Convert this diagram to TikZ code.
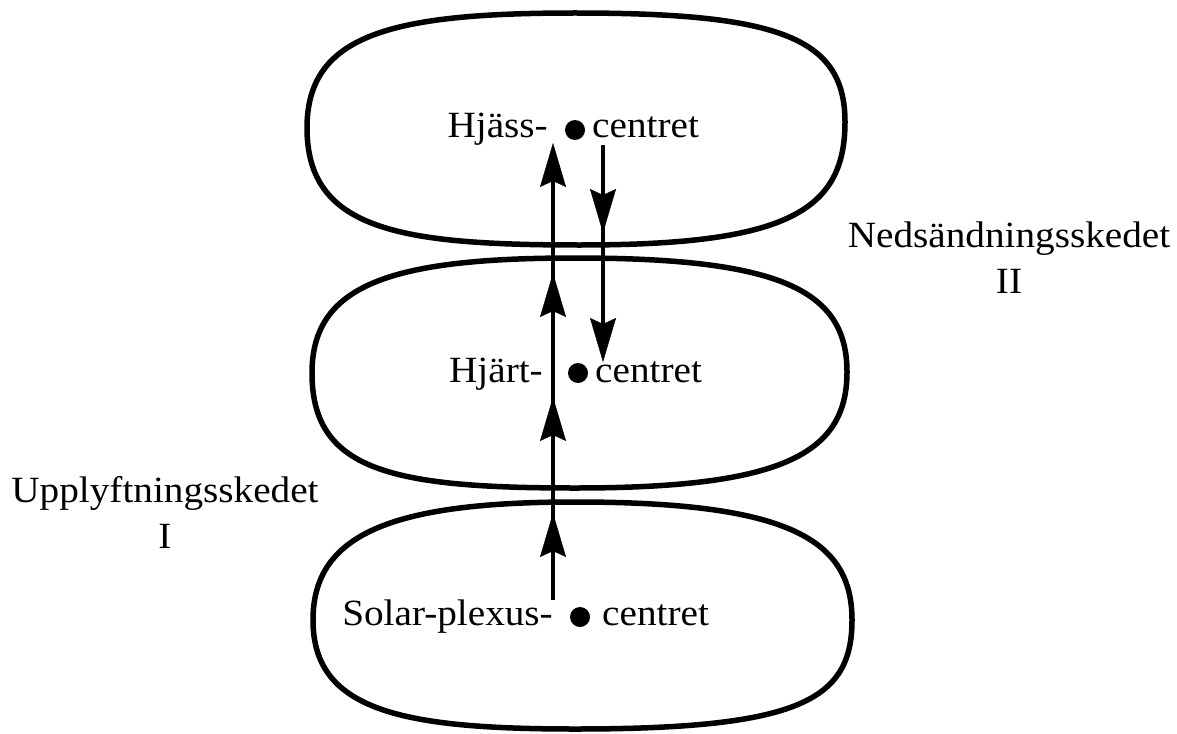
\documentclass[tikz,border=0pt]{standalone}
\usepackage{fontspec}
\setmainfont{Liberation Serif}
\usetikzlibrary{arrows.meta,decorations.markings}
\begin{document}
\begin{tikzpicture}[x=1pt,y=-1pt,
  pill/.style={line width=5.5pt, line join=round},
  flow/.style={line width=4.5pt},
  lbl/.style={font=\fontsize{37}{46}\selectfont, inner sep=0pt, xscale=1.06},
  cdot/.style={circle, fill, inner sep=0pt, minimum size=20pt},
  headtip/.tip={Stealth[length=44pt,width=26pt,inset=6pt]}]
\fill[white] (0,0) rectangle (1177,733);
\useasboundingbox (0,0) rectangle (1177,733);
% top shape
\draw[pill] (575,13) .. controls (780,13) and (845,38) .. (845,122)
  .. controls (845,212) and (785,245) .. (580,245)
  .. controls (400,245) and (307,230) .. (307,128)
  .. controls (307,35) and (390,13) .. (575,13) -- cycle;
% middle shape
\draw[pill] (575,258) .. controls (780,258) and (847,290) .. (847,372)
  .. controls (847,455) and (780,488) .. (575,488)
  .. controls (390,488) and (312,470) .. (312,373)
  .. controls (312,285) and (390,258) .. (575,258) -- cycle;
% bottom shape
\draw[pill] (575,502) .. controls (790,502) and (852,540) .. (852,620)
  .. controls (852,700) and (800,729) .. (575,729)
  .. controls (400,729) and (313,710) .. (313,620)
  .. controls (313,535) and (390,502) .. (575,502) -- cycle;
% centres
\node[cdot] (hd) at (575,130) {};
\node[cdot] (md) at (578,373) {};
\node[cdot] (sd) at (580,617) {};
\node[lbl, anchor=base east] (h1) at (548,137) {Hjäss-};
\node[lbl, anchor=base west] (h2) at (592,137) {centret};
\node[lbl, anchor=base east] (m1) at (543,382) {Hjärt-};
\node[lbl, anchor=base west] (m2) at (595,382) {centret};
\node[lbl, anchor=base east] (s1) at (553,625) {Solar-plexus-};
\node[lbl, anchor=base west] (s2) at (602,625) {centret};
\node[lbl, anchor=base, align=center] (ned) at (1009,293) {Nedsändningsskedet\\II};
\node[lbl, anchor=base, align=center] (upp) at (165,548) {Upplyftningsskedet\\I};
% arrows
\coordinate (upS) at (553,600);
\coordinate (upT) at (553,143);
\coordinate (dnS) at (603,145);
\coordinate (dnT) at (603,362);
\draw[flow, shorten >=12pt] (upS) -- (upT);
\path[decorate, decoration={markings,
  mark=at position 87pt with {\arrow{headtip}},
  mark=at position 203pt with {\arrow{headtip}},
  mark=at position 327pt with {\arrow{headtip}},
  mark=at position 1 with {\arrow{headtip}}}] (upS) -- (upT);
\draw[flow, shorten >=12pt] (dnS) -- (dnT);
\path[decorate, decoration={markings,
  mark=at position 88pt with {\arrow{headtip}},
  mark=at position 1 with {\arrow{headtip}}}] (dnS) -- (dnT);
\end{tikzpicture}
\end{document}
